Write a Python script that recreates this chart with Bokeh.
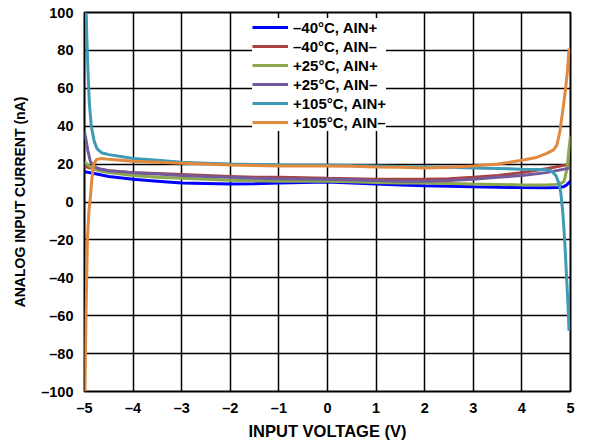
from bokeh.plotting import figure
from bokeh.models import FixedTicker, Legend, LegendItem, Label, Range1d
from bokeh.embed import file_html
from bokeh.resources import INLINE

# ---- data ----
series_names = ["–40°C, AIN+", "–40°C, AIN–", "+25°C, AIN+", "+25°C, AIN–", "+105°C, AIN+", "+105°C, AIN–"]
series_colors = ["#0000FF", "#A8423E", "#8BA84F", "#735A9A", "#3F9AB5", "#E0893F"]

blue_x = [-5, -4.8, -4.5, -4, -3.5, -3, -2.5, -2, -1.5, -1, -0.5, 0, 0.5, 1, 1.5, 2, 2.5, 3, 3.5, 4, 4.5, 4.75, 4.85, 4.92, 5]
blue_y = [16, 15, 13.5, 12, 11, 10, 9.8, 9.5, 9.6, 10, 10.3, 10.5, 10, 9.5, 9, 8.6, 8.3, 8, 7.8, 7.6, 7.5, 7.6, 8, 9, 11]

red_x = [-5, -4.9, -4.8, -4.5, -4, -3.5, -3, -2.5, -2, -1.5, -1, -0.5, 0, 0.5, 1, 1.5, 2, 2.5, 3, 3.5, 4, 4.5, 5]
red_y = [19, 18, 17.5, 16.5, 15.5, 15, 14.5, 14, 13.5, 13, 13, 12.8, 12.5, 12.3, 12, 12, 12, 12.3, 13, 14, 15.5, 17.5, 20]

green_x = [-5, -4.95, -4.85, -4.7, -4.5, -4, -3.5, -3, -2.5, -2, -1.5, -1, -0.5, 0, 0.5, 1, 1.5, 2, 2.5, 3, 3.5, 4, 4.5, 4.7, 4.8, 4.87, 4.93, 4.97, 5]
green_y = [21, 20, 18, 16.5, 15.5, 14, 13, 12.5, 12, 11.5, 11.2, 11, 11, 11, 10.7, 10.3, 10, 10, 9.8, 9.5, 9.3, 9, 9, 9.3, 9.8, 11, 18, 28, 35]

purple_x = [-5, -4.97, -4.93, -4.88, -4.82, -4.7, -4.5, -4, -3.5, -3, -2.5, -2, -1.5, -1, -0.5, 0, 0.5, 1, 1.5, 2, 2.5, 3, 3.5, 4, 4.5, 5]
purple_y = [37, 33, 27, 21.5, 19, 17.5, 16.5, 15.5, 14.8, 14, 13.5, 13, 12.5, 12.3, 12.2, 12, 11.7, 11.3, 11, 11, 11.3, 12, 13, 14, 15.5, 18]

teal_x = [-4.965, -4.95, -4.93, -4.9, -4.86, -4.8, -4.74, -4.65, -4.5, -4.25, -4, -3.5, -3, -2.5, -2, -1.5, -1, -0.5, 0, 0.5, 1, 1.5, 2, 2.5, 3, 3.5, 4, 4.3, 4.5, 4.6, 4.7, 4.76, 4.8, 4.84, 4.88, 4.92, 4.95, 4.97]
teal_y = [100, 85, 70, 52, 40, 32, 28, 26, 25, 24, 23, 22, 21, 20.5, 20, 19.8, 19.6, 19.5, 19.5, 19.2, 19, 18.7, 18.5, 18.3, 18, 17.7, 17.3, 17.2, 17, 16.5, 14, 10, 5, -5, -20, -40, -55, -68]

orange_x = [-4.99, -4.97, -4.94, -4.91, -4.88, -4.85, -4.81, -4.75, -4.65, -4.5, -4, -3.5, -3, -2.5, -2, -1.5, -1, -0.5, 0, 0.5, 1, 1.5, 2, 2.5, 3, 3.5, 4, 4.3, 4.5, 4.65, 4.72, 4.78, 4.84, 4.9, 4.94, 4.97]
orange_y = [-100, -60, -20, -5, 2, 12, 20, 22.5, 23, 22.5, 21.5, 21, 20.5, 20, 19.5, 19.3, 19, 19, 19, 18.8, 18.5, 18.3, 18, 18.3, 19, 20, 22, 23.5, 25.5, 27.5, 30, 37, 48, 60, 70, 81]

x_ticks = [-5, -4, -3, -2, -1, 0, 1, 2, 3, 4, 5]
y_ticks = [-100, -80, -60, -40, -20, 0, 20, 40, 60, 80, 100]

xs = [blue_x, red_x, green_x, purple_x, teal_x, orange_x]
ys = [blue_y, red_y, green_y, purple_y, teal_y, orange_y]

FONT = "Liberation Sans"

p = figure(width=610, height=442, output_backend="svg", toolbar_location=None,
           x_range=Range1d(-5, 5), y_range=Range1d(-100, 100),
           min_border_left=84, min_border_right=40, min_border_top=12, min_border_bottom=50)

p.outline_line_color = "black"
p.outline_line_width = 2
p.background_fill_color = "white"
p.border_fill_color = "white"

def lab(v):
    return ("–" + str(abs(v))) if v < 0 else str(v)

for ax, ticks in ((p.xaxis[0], x_ticks), (p.yaxis[0], y_ticks)):
    ax.ticker = FixedTicker(ticks=ticks)
    ax.major_label_overrides = {t: lab(t) for t in ticks}
    ax.major_tick_out = 0
    ax.major_tick_in = 0
    ax.minor_tick_out = 0
    ax.minor_tick_in = 0
    ax.axis_line_color = None
    ax.major_label_text_font = FONT
    ax.major_label_text_font_style = "bold"
    ax.major_label_text_font_size = "14.5px"
    ax.major_label_text_color = "black"
    ax.axis_label_text_font = FONT
    ax.axis_label_text_font_style = "bold"
    ax.axis_label_text_color = "black"

p.xaxis.axis_label = "INPUT VOLTAGE (V)"
p.yaxis.axis_label = "ANALOG INPUT CURRENT (nA)"
p.xaxis.axis_label_text_font_size = "16.5px"
p.yaxis.axis_label_text_font_size = "14px"
p.xaxis.major_label_standoff = 8
p.xaxis.axis_label_standoff = 3
p.yaxis.major_label_standoff = 11
p.yaxis.axis_label_standoff = 10

p.xgrid.ticker = FixedTicker(ticks=x_ticks)
p.ygrid.ticker = FixedTicker(ticks=y_ticks)
p.grid.grid_line_color = "black"
p.grid.grid_line_width = 1.5
p.grid.grid_line_alpha = 1

items = []
for name, color, x, y in zip(series_names, series_colors, xs, ys):
    r = p.line(x, y, line_color=color, line_width=3)
    items.append(LegendItem(label=name, renderers=[r]))

legend = Legend(items=items, location=(168, 260), orientation="vertical",
                background_fill_color="white", background_fill_alpha=1,
                border_line_color=None, padding=3, spacing=1, margin=0,
                glyph_width=36, glyph_height=18, label_height=18, label_standoff=5,
                label_text_font=FONT, label_text_font_style="bold",
                label_text_font_size="15px", label_text_color="black")
p.add_layout(legend)

code = Label(x=514, y=-23, x_units="screen", y_units="screen", text="12912-248", angle=1.5708,
             text_font=FONT, text_font_size="10px", text_color="black",
             text_align="center", text_baseline="middle")
p.add_layout(code)

open("out.html", "w").write(file_html(p, INLINE))
